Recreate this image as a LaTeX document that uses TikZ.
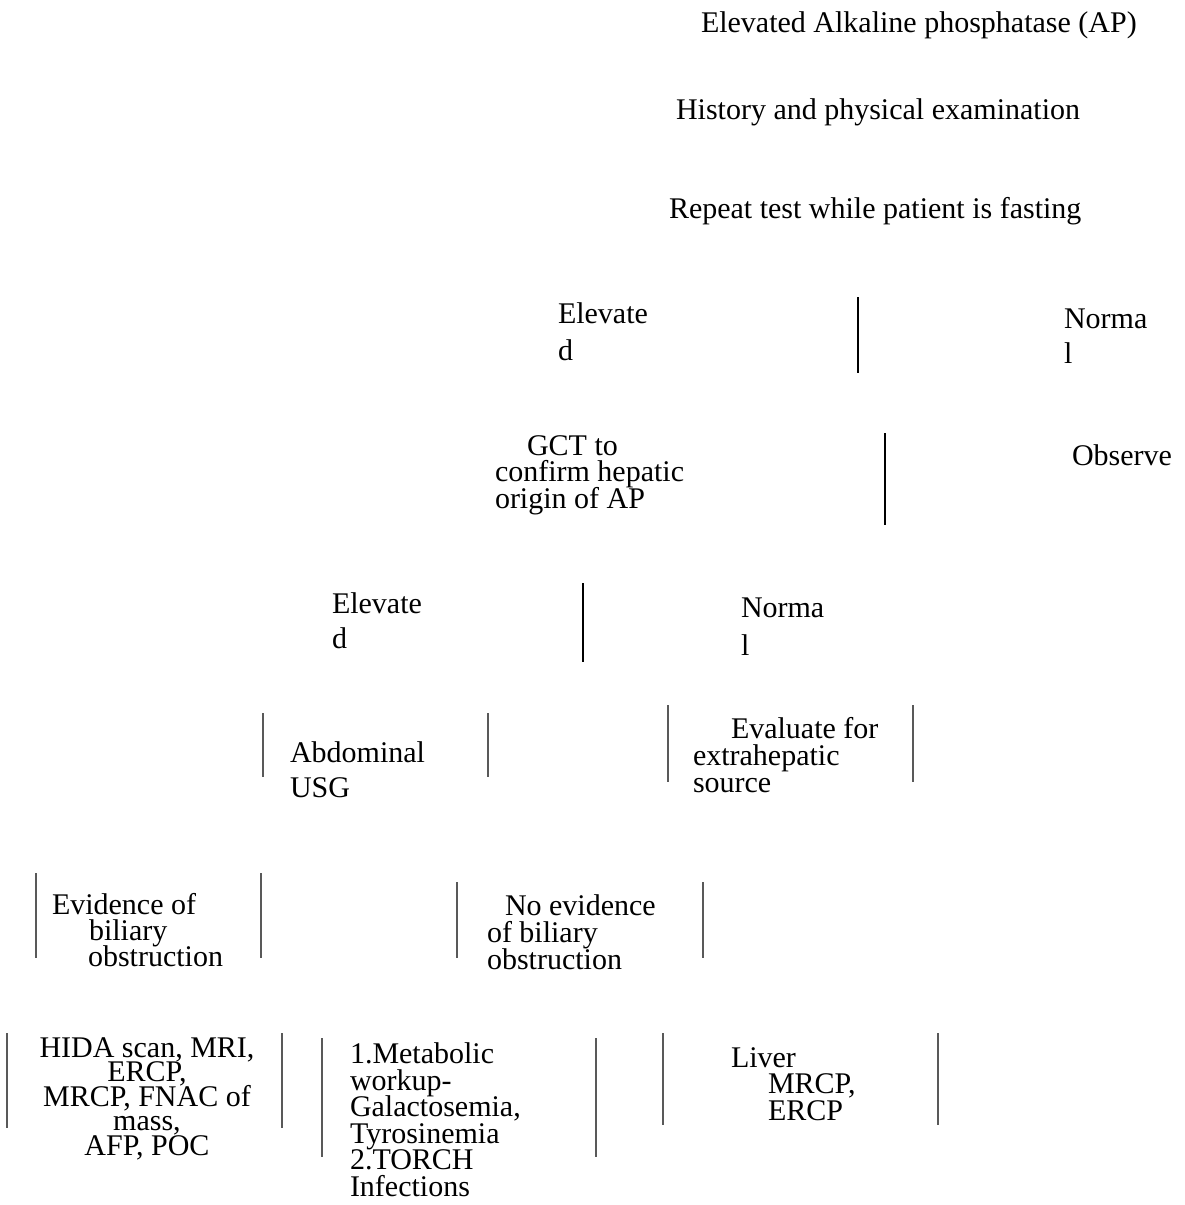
\documentclass[tikz,border=0pt]{standalone}
\usepackage{fontspec}
\setmainfont{Liberation Serif}
\newcommand\mytightlines{\lineskiplimit-100pt\relax}
\begin{document}
\begin{tikzpicture}[x=1pt,y=-1pt,
  txt/.style={inner sep=0pt, outer sep=0pt, anchor=base west, align=left,
    font={\fontsize{30}{#1}\selectfont\mytightlines}},
  txt/.default=26,
  ctxt/.style={inner sep=0pt, outer sep=0pt, anchor=base, align=center,
    font={\fontsize{30}{#1}\selectfont\mytightlines}},
  ctxt/.default=26,
  boldrule/.style={draw=black, line width=2pt},
  thinrule/.style={draw=black!65, line width=1.2pt}]
\useasboundingbox (0,0) rectangle (1185,1205);

% texts (multi-line nodes are placed by the baseline of their last line)
\node[txt] (ap) at (701,32) {Elevated Alkaline phosphatase (AP)};
\node[txt] (hist) at (676,119) {History and physical examination};
\node[txt] (rep) at (669,218) {Repeat test while patient is fasting};
\node[txt=37] (el1) at (558,360) {Elevate\\d};
\node[txt=35] (no1) at (1064,363) {Norma\\l};
\node[txt=26.5] (gct) at (495,508) {\hspace*{32pt}GCT to\\confirm hepatic\\origin of AP};
\node[txt] (obs) at (1072,465) {Observe};
\node[txt=35] (el2) at (332,648) {Elevate\\d};
\node[txt=38] (no2) at (741,655) {Norma\\l};
\node[txt=35] (usg) at (290,797) {Abdominal\\USG};
\node[txt=27] (ext) at (693,792) {\hspace*{38pt}Evaluate for\\extrahepatic\\source};
\node[txt=26] (evb) at (52,966) {Evidence of\\\hspace*{37pt}biliary\\\hspace*{36pt}obstruction};
\node[txt=27] (nevb) at (487,969) {\hspace*{18pt}No evidence\\of biliary\\obstruction};
\node[ctxt=24.5] (hida) at (147,1155) {HIDA scan, MRI,\\ERCP,\\MRCP, FNAC of\\mass,\\AFP, POC};
\node[txt=26.5] (meta) at (350,1196) {1.Metabolic\\workup-\\Galactosemia,\\Tyrosinemia\\2.TORCH\\Infections};
\node[txt=26.5] (liv) at (731,1120) {Liver\\\hspace*{37pt}MRCP,\\\hspace*{37pt}ERCP};

% vertical rules
\draw[boldrule] (858,297) -- (858,373);
\draw[boldrule] (885,433) -- (885,525);
\draw[boldrule] (583,583) -- (583,662);
\draw[thinrule] (263,713) -- (263,777);
\draw[thinrule] (488,713) -- (488,777);
\draw[thinrule] (668,705) -- (668,782);
\draw[thinrule] (913,705) -- (913,782);
\draw[thinrule] (36,873) -- (36,958);
\draw[thinrule] (261,873) -- (261,958);
\draw[thinrule] (457,882) -- (457,958);
\draw[thinrule] (703,882) -- (703,958);
\draw[thinrule] (7,1033) -- (7,1128);
\draw[thinrule] (282,1033) -- (282,1128);
\draw[thinrule] (322,1038) -- (322,1157);
\draw[thinrule] (596,1038) -- (596,1157);
\draw[thinrule] (663,1033) -- (663,1125);
\draw[thinrule] (938,1033) -- (938,1125);
\end{tikzpicture}
\end{document}
